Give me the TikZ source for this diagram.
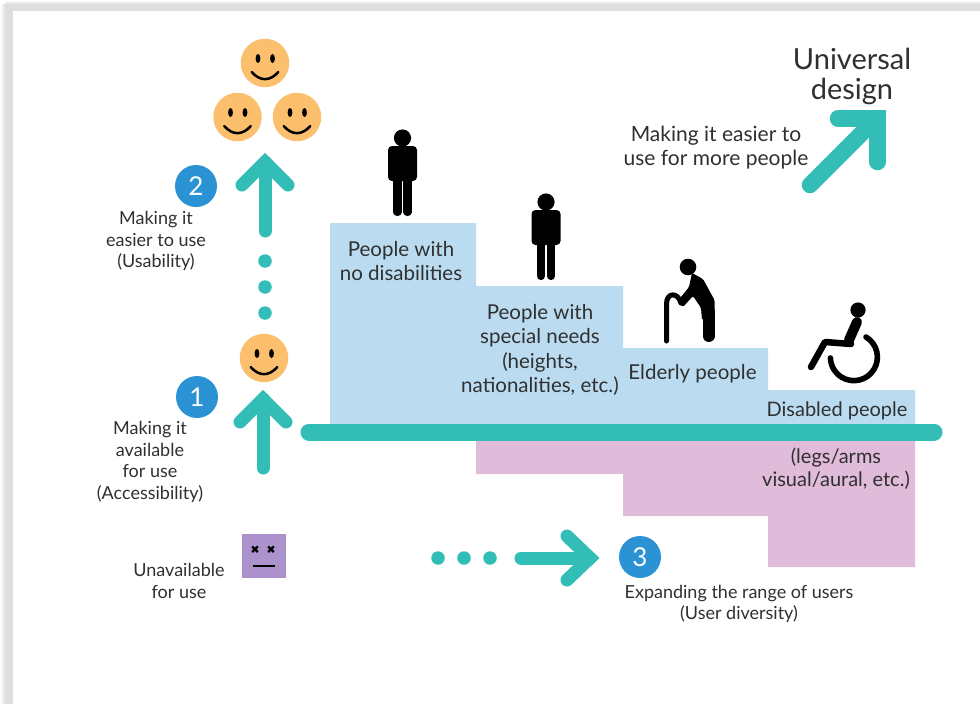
\documentclass[tikz,border=0pt]{standalone}
\usepackage{fontspec}
\setmainfont{Lato}
\usetikzlibrary{calc}
\definecolor{teal}{HTML}{32BDB6}
\definecolor{stepblue}{HTML}{BBDCF0}
\definecolor{steppink}{HTML}{E0BBDA}
\definecolor{badge}{HTML}{2B93D3}
\definecolor{smile}{HTML}{FBBF6E}
\definecolor{sad}{HTML}{AB92CC}
\definecolor{frame}{HTML}{DEDEDE}
\definecolor{ink}{HTML}{303030}
\newcommand{\fs}[1]{\fontsize{#1}{#1}\selectfont}
\tikzset{
  face/.style={circle,fill=smile,minimum size=48.5pt,inner sep=0pt},
  badgenode/.style={circle,fill=badge,minimum size=42pt,inner sep=0pt,text=white,font=\fs{26}},
  dot/.style={circle,fill=teal,minimum size=13.5pt,inner sep=0pt},
  lab/.style={align=center,text=ink,inner sep=0pt},
  labA/.style={lab,font=\fs{20.5}},
  labB/.style={lab,font=\fs{18}},
  arrowline/.style={draw=teal,line width=13pt,line cap=round,line join=miter},
  blk/.style={draw=black,line cap=round,line join=round}
}
\newcommand{\smiley}[2]{%
  \node[face] (#1) at (#2) {};
  \fill[black] ($(#1)+(-7,-4.5)$) ellipse (2.4pt and 4.5pt);
  \fill[black] ($(#1)+(7.5,-4.5)$) ellipse (2.4pt and 4.5pt);
  \draw[black,line width=2.5pt,line cap=round] ($(#1)+(-13.3,9)$) .. controls ($(#1)+(-5,18.5)$) and ($(#1)+(5,18.5)$) .. ($(#1)+(13.3,9)$);
}
\newcommand{\person}[2]{%
  \coordinate (p) at (#1,#2);
  \fill[black] ($(p)+(0,8)$) circle (8.6pt);
  \fill[black,rounded corners=4pt] ($(p)+(-14.5,16)$) rectangle ($(p)+(14.5,51)$);
  \draw[black,line width=8.2pt,line cap=round] ($(p)+(-5,45)$) -- ($(p)+(-5,82)$);
  \draw[black,line width=8.2pt,line cap=round] ($(p)+(5,45)$) -- ($(p)+(5,82)$);
}
\begin{document}
\begin{tikzpicture}[x=1pt,y=-1pt]
\useasboundingbox (0,0) rectangle (980,704);
\fill[white] (0,0) rectangle (980,704);
% frame shadow
\fill[frame] (5,4) rectangle (980,11);
\fill[frame] (5,4) rectangle (13,704);
\shade[left color=white,right color=frame] (0,4) rectangle (5,704);
\shade[top color=white,bottom color=frame] (5,0) rectangle (980,4);
% steps
\fill[stepblue] (330,223) -- (476,223) -- (476,286) -- (623,286) -- (623,348) -- (768,348) -- (768,390) -- (915,390) -- (915,432) -- (330,432) -- cycle;
\fill[steppink] (476,432) -- (915,432) -- (915,567) -- (768,567) -- (768,516) -- (623,516) -- (623,474) -- (476,474) -- cycle;
\coordinate (barL) at (309,432);
\coordinate (barR) at (934,432);
\draw[teal,line width=17pt,line cap=round] (barL) -- (barR);
% faces
\smiley{f1}{265,63}
\smiley{f2}{237.5,117}
\smiley{f3}{297,117}
\smiley{f4}{264,358}
% badges
\node[badgenode] (b2) at (196,186) {2};
\node[badgenode] (b1) at (197,397) {1};
\node[badgenode] (b3) at (640,557) {3};
% dots
\node[dot] (d1) at (265,261) {};
\node[dot] (d2) at (265,287) {};
\node[dot] (d3) at (265,313) {};
\node[dot] (d4) at (438,558) {};
\node[dot] (d5) at (464,558) {};
\node[dot] (d6) at (490,558) {};
% arrows
\coordinate (a2s) at (265,231); \coordinate (a2t) at (265,162);
\draw[arrowline] (a2s) -- (a2t);
\draw[arrowline] (242,185) -- (265,162) -- (288,185);
\coordinate (a1s) at (263,468); \coordinate (a1t) at (263,399);
\draw[arrowline] (a1s) -- (a1t);
\draw[arrowline] (240,422) -- (263,399) -- (286,422);
\coordinate (a3s) at (521,558); \coordinate (a3t) at (590,558);
\draw[arrowline] (a3s) -- (a3t);
\draw[arrowline] (567,536) -- (590,558) -- (567,580);
\coordinate (a4s) at (810,185); \coordinate (a4t) at (875,120);
\draw[arrowline,line width=16.5pt] (a4s) -- (a4t);
\draw[arrowline,line width=16.5pt] (838,118.5) -- (877.5,118.5) -- (877.5,162);
% sad face
\node[fill=sad,minimum size=44pt,inner sep=0pt] (sq) at (264,556) {};
\foreach \x in {-9,7}{
  \draw[black,line width=2.2pt] ($(sq)+(\x-2.8,-9.6)$) -- ($(sq)+(\x+2.8,-4)$);
  \draw[black,line width=2.2pt] ($(sq)+(\x-2.8,-4)$) -- ($(sq)+(\x+2.8,-9.6)$);
}
\draw[black,line width=2.2pt] ($(sq)+(-11,10)$) -- ($(sq)+(11,10)$);
% people
\person{402.5}{130}
\person{546}{194}
% elderly
\fill[black] (688,267) circle (8.3pt);
\fill[black,rounded corners=1.5pt] (692,273) -- (703,279) -- (714.5,300) -- (714.5,320) -- (702,320) -- (701,308) -- (693,296) -- (683,307) -- (677,302) -- (689,287) -- cycle;
\draw[black,line width=12pt,line cap=round] (708.5,312) -- (708.5,336);
\draw[blk,line width=5pt] (666.5,341) -- (666.5,304) .. controls (666.5,292) and (678,292) .. (681,303);
% wheelchair
\fill[black] (858,310) circle (7.6pt);
\draw[blk,line width=10pt] (857,322) -- (849,340);
\draw[blk,line width=6.5pt] (851,344) -- (825,342) -- (811,367);
\draw[black,line width=5.6pt,line cap=round] (866,337) arc (59:-178:23.5pt);
% text
\node[lab,font=\fs{29}] (t1) at (852,76) {Universal\\[1pt]design};
\node[lab,font=\fs{21}] (t2) at (716,147.5) {Making it easier to\\[3.5pt]use for more people};
\node[labA] (t3) at (401,261) {People with\\[4pt]no disabilities};
\node[labA] (t4) at (540,350) {People with\\[4pt]special needs\\[4pt](heights,\\[4pt]nationalities, etc.)};
\node[labA] (t5) at (692.5,374) {Elderly people};
\node[lab,font=\fs{20}] (t6) at (837,411) {Disabled people};
\node[lab,font=\fs{20}] (t7) at (836,469) {(legs/arms\\[3pt]visual/aural, etc.)};
\node[labB] (t8) at (156,241) {Making it\\[3.5pt]easier to use\\[3.5pt](Usability)};
\node[labB] (t9) at (150,462) {Making it\\[3.5pt]available\\[3.5pt]for use\\[3.5pt](Accessibility)};
\node[labB] (t10) at (179,581) {Unavailable\\[3.5pt]for use};
\node[labB] (t11) at (739,603.5) {Expanding the range of users\\[3pt](User diversity)};
\end{tikzpicture}
\end{document}
